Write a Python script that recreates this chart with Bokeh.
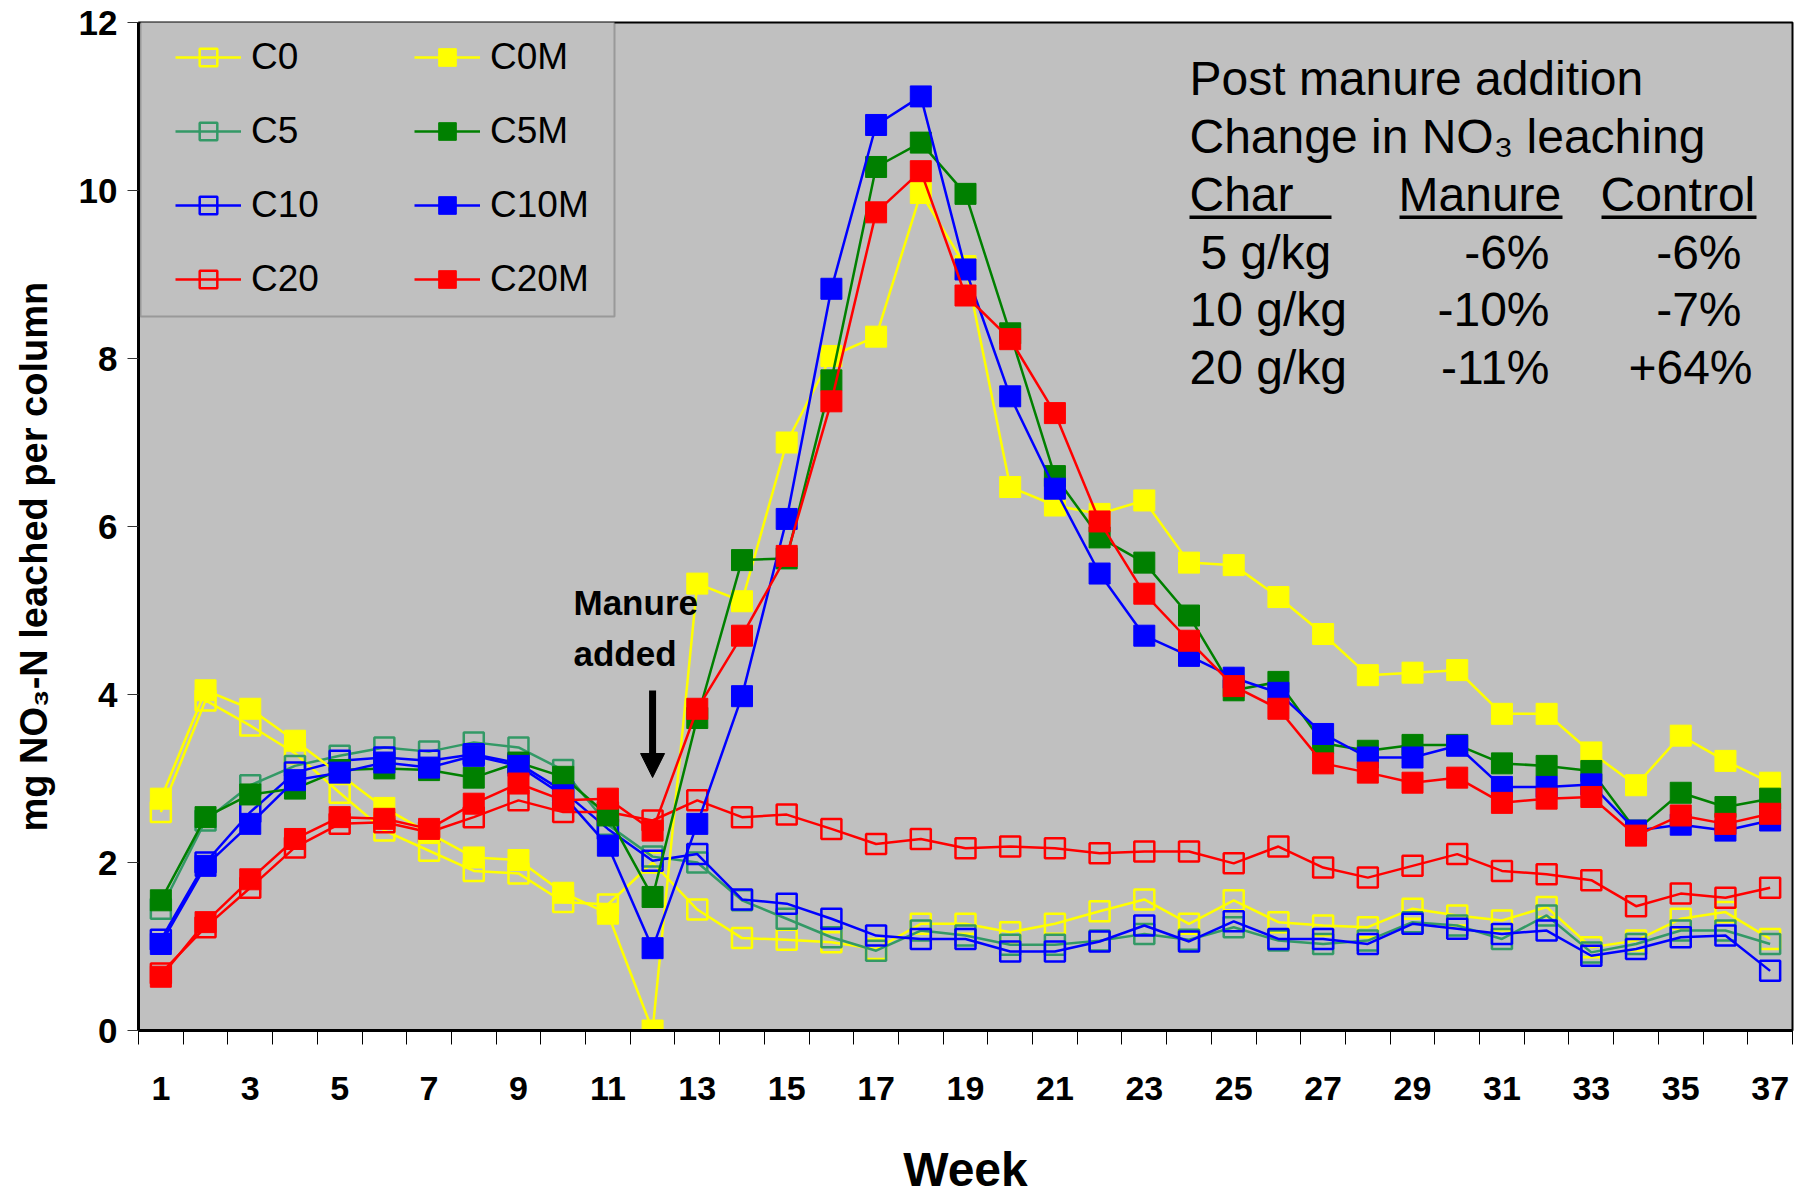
from bokeh.plotting import figure
from bokeh.models import (Range1d, FixedTicker, Legend, LegendItem, Label, Title,
                          Arrow, NormalHead, BoxAnnotation)
from bokeh.embed import file_html
from bokeh.resources import INLINE

# ---------------- data ----------------
weeks = list(range(1, 38))
tick_labels_x = list(range(1, 38, 2))
tick_values_y = [0, 2, 4, 6, 8, 10, 12]

C0 = [2.60, 3.93, 3.63, 3.30, 2.83, 2.38, 2.14, 1.90, 1.87, 1.53,
      1.50, 2.00, 1.44, 1.10, 1.08, 1.05, 0.97, 1.27, 1.27, 1.17,
      1.27, 1.42, 1.56, 1.27, 1.55, 1.29, 1.25, 1.23, 1.45, 1.37,
      1.31, 1.47, 0.99, 1.07, 1.33, 1.41, 1.09]
C5 = [1.45, 2.50, 2.92, 3.15, 3.27, 3.37, 3.32, 3.43, 3.37, 3.10,
      2.45, 2.07, 2.00, 1.55, 1.33, 1.11, 0.95, 1.19, 1.13, 1.02,
      1.02, 1.07, 1.15, 1.08, 1.23, 1.07, 1.03, 1.07, 1.29, 1.25,
      1.09, 1.37, 0.93, 1.03, 1.19, 1.19, 1.03]
C10 = [1.08, 2.00, 2.60, 3.07, 3.21, 3.25, 3.21, 3.29, 3.18, 2.85,
       2.40, 2.02, 2.10, 1.56, 1.51, 1.33, 1.13, 1.09, 1.09, 0.94,
       0.94, 1.06, 1.25, 1.06, 1.30, 1.09, 1.09, 1.03, 1.27, 1.21,
       1.15, 1.19, 0.89, 0.97, 1.11, 1.13, 0.71]
C20 = [0.68, 1.23, 1.70, 2.18, 2.46, 2.48, 2.36, 2.54, 2.74, 2.60,
       2.60, 2.50, 2.74, 2.54, 2.57, 2.40, 2.22, 2.28, 2.17, 2.19,
       2.17, 2.11, 2.13, 2.13, 1.99, 2.19, 1.94, 1.82, 1.96, 2.10,
       1.90, 1.86, 1.79, 1.48, 1.63, 1.58, 1.70]
C0M = [2.76, 4.05, 3.83, 3.45, 3.05, 2.65, 2.35, 2.06, 2.03, 1.64,
       1.39, 0.00, 5.32, 5.11, 7.00, 8.03, 8.26, 9.97, 9.10, 6.47,
       6.25, 6.15, 6.31, 5.57, 5.54, 5.16, 4.72, 4.23, 4.26, 4.29,
       3.77, 3.77, 3.31, 2.92, 3.51, 3.21, 2.95]
C5M = [1.55, 2.54, 2.81, 2.88, 3.10, 3.12, 3.10, 3.01, 3.19, 3.02,
       2.56, 1.59, 3.72, 5.60, 5.62, 7.74, 10.28, 10.57, 9.96, 8.30,
       6.60, 5.87, 5.57, 4.94, 4.05, 4.15, 3.42, 3.33, 3.40, 3.40,
       3.18, 3.15, 3.09, 2.38, 2.83, 2.66, 2.76]
C10M = [1.03, 1.96, 2.46, 2.98, 3.07, 3.19, 3.13, 3.27, 3.15, 2.80,
        2.20, 0.98, 2.46, 3.98, 6.09, 8.83, 10.78, 11.12, 9.06, 7.55,
        6.45, 5.44, 4.70, 4.46, 4.20, 4.02, 3.53, 3.25, 3.25, 3.39,
        2.90, 2.90, 2.93, 2.38, 2.45, 2.38, 2.50]
C20M = [0.64, 1.29, 1.80, 2.28, 2.54, 2.52, 2.40, 2.70, 2.94, 2.74,
        2.76, 2.38, 3.83, 4.70, 5.65, 7.49, 9.74, 10.23, 8.75, 8.23,
        7.35, 6.06, 5.20, 4.64, 4.10, 3.83, 3.18, 3.07, 2.95, 3.01,
        2.71, 2.76, 2.78, 2.32, 2.56, 2.46, 2.58]

series_names = ["C0", "C5", "C10", "C20", "C0M", "C5M", "C10M", "C20M"]
series_values = [C0, C5, C10, C20, C0M, C5M, C10M, C20M]
series_colors = ["#FFFF00", "#339966", "#0000FF", "#FF0000",
                 "#FFFF00", "#008000", "#0000FF", "#FF0000"]
series_filled = [False, False, False, False, True, True, True, True]

table_title = ["Post manure addition", "Change in NO\u2083 leaching"]
table_header = ["Char", "Manure", "Control"]
table_char = ["5 g/kg", "10 g/kg", "20 g/kg"]
table_manure = ["-6%", "-10%", "-11%"]
table_control = ["-6%", "-7%", "+64%"]

y_title = "mg NO\u2083-N leached per column"
x_title = "Week"

# ---------------- layout ----------------
W, H = 1810, 1200
FL, FR, FT, FB = 138, 1792, 22, 1030
X0, X1, Y0, Y1 = 0.5, 37.5, 0, 12


def xd(px):
    return X0 + (px - FL) * (X1 - X0) / (FR - FL)


def yd(py):
    return Y1 - (py - FT) * (Y1 - Y0) / (FB - FT)


SANS = "Liberation Sans"

p = figure(width=W, height=H, x_range=Range1d(X0, X1), y_range=Range1d(Y0, Y1),
           output_backend="svg", toolbar_location=None,
           min_border_left=FL, min_border_right=W - FR,
           min_border_top=FT, min_border_bottom=H - FB,
           background_fill_color="#C0C0C0", border_fill_color="white")
p.grid.visible = False
p.outline_line_color = "black"
p.outline_line_width = 2

# x axis
xa = p.xaxis[0]
xa.ticker = FixedTicker(ticks=tick_labels_x, minor_ticks=[w - 0.5 for w in weeks] + [X1])
xa.major_tick_out = 0
xa.major_tick_in = 0
xa.minor_tick_out = 14
xa.minor_tick_in = 0
xa.minor_tick_line_color = "black"
xa.minor_tick_line_width = 1
xa.axis_line_width = 3
xa.axis_line_color = "black"
xa.major_label_text_font = SANS
xa.major_label_text_font_style = "bold"
xa.major_label_text_font_size = "34px"
xa.major_label_text_color = "black"
xa.major_label_standoff = 32
xa.axis_label = x_title
xa.axis_label_text_font = SANS
xa.axis_label_text_font_style = "bold"
xa.axis_label_text_font_size = "48px"
xa.axis_label_text_color = "black"
xa.axis_label_standoff = 40

# y axis
ya = p.yaxis[0]
ya.ticker = FixedTicker(ticks=tick_values_y)
ya.major_tick_out = 11
ya.major_tick_in = 0
ya.major_tick_line_color = "#333333"
ya.minor_tick_out = 0
ya.minor_tick_in = 0
ya.axis_line_width = 3
ya.axis_line_color = "black"
ya.major_label_text_font = SANS
ya.major_label_text_font_style = "bold"
ya.major_label_text_font_size = "35px"
ya.major_label_text_color = "black"
ya.major_label_standoff = 10
# blank spacer label so the title below sits further out
ya.axis_label = " "
ya.axis_label_text_font_size = "8px"
ya.axis_label_standoff = 4

# y title in the left panel, shifted along the axis like the reference
p.add_layout(Title(text=y_title, align="left", offset=FB - 831,
                   text_font=SANS, text_font_style="bold", text_font_size="38px",
                   text_color="black", standoff=10), "left")

# series
renderers = {}
for i in range(len(series_names)):
    name, vals, col, filled = series_names[i], series_values[i], series_colors[i], series_filled[i]
    lr = p.line(weeks, vals, line_color=col, line_width=2.5)
    if filled:
        sr = p.scatter(weeks, vals, marker="square", size=21, fill_color=col,
                       line_color=col, line_width=1)
    else:
        sr = p.scatter(weeks, vals, marker="square", size=20, fill_alpha=0,
                       line_color=col, line_width=2.5)
    renderers[name] = [lr, sr]

# legend box
p.add_layout(BoxAnnotation(left=xd(140), right=xd(614), top=yd(16), bottom=yd(316),
                           fill_color="#C0C0C0", fill_alpha=1,
                           line_color="#404040", line_width=2))

items = [LegendItem(label=n, renderers=renderers[n]) for n in series_names]
legend = Legend(items=items, location=(175 - FL, FB - 301), orientation="vertical",
                nrows=4, glyph_width=66, glyph_height=44, label_height=44,
                label_width=133, label_standoff=10, spacing=30, padding=0, margin=0,
                background_fill_alpha=0, border_line_alpha=0,
                label_text_font=SANS, label_text_font_size="37px",
                label_text_color="black")
p.add_layout(legend)

# "Manure added" annotation with arrow
for txt, mid in zip(["Manure", "added"], [602, 653]):
    p.add_layout(Label(x=xd(573), y=yd(mid), text=txt, text_font=SANS,
                       text_font_style="bold", text_font_size="35px",
                       text_color="black", text_baseline="middle"))
p.add_layout(Arrow(end=NormalHead(size=24, fill_color="black", line_color="black"),
                   x_start=12, y_start=yd(690), x_end=12, y_end=yd(777),
                   line_color="black", line_width=7))

# table text
TFS = "48px"


def tlabel(x, mid, text, align="left"):
    p.add_layout(Label(x=xd(x), y=yd(mid), text=text, text_font=SANS,
                       text_font_size=TFS, text_color="black",
                       text_align=align, text_baseline="middle"))


tlabel(1189, 78, table_title[0])
tlabel(1189, 136, table_title[1])
tlabel(1189, 194, table_header[0])
tlabel(1398, 194, table_header[1])
tlabel(1600, 194, table_header[2])
for (l, r) in [(1189, 1331), (1399, 1562), (1601, 1756)]:
    p.add_layout(BoxAnnotation(left=xd(l), right=xd(r), top=yd(215), bottom=yd(218.5),
                               fill_color="black", fill_alpha=1, line_alpha=0))
char_x = [1200, 1189, 1189]
ctrl_r = [1741, 1741, 1752]
for k, mid in enumerate([252, 309, 367]):
    tlabel(char_x[k], mid, table_char[k])
    tlabel(1549, mid, table_manure[k], "right")
    tlabel(ctrl_r[k], mid, table_control[k], "right")

open("out.html", "w").write(file_html(p, INLINE))
